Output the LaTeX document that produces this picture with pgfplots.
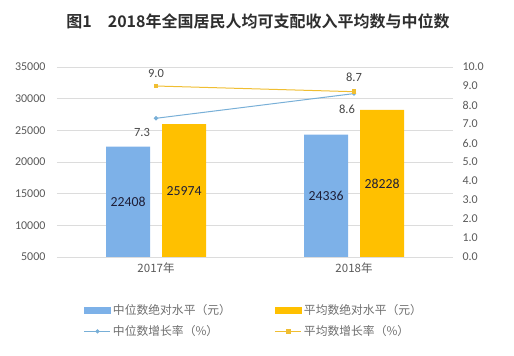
\documentclass[border=0pt]{standalone}
\usepackage{pgfplots}
\pgfplotsset{compat=1.18}
\usepackage{fontspec}
\setmainfont{Carlito}
\newfontfamily\cjk{Noto Sans CJK SC}[BoldFont={Noto Sans CJK SC Bold}]
\definecolor{barblue}{RGB}{125,177,232}
\definecolor{barorange}{RGB}{255,192,0}
\definecolor{lineblue}{RGB}{120,175,215}
\definecolor{lineorange}{RGB}{240,190,50}
\definecolor{ticktext}{RGB}{89,89,89}
\definecolor{legtext}{RGB}{110,110,110}
\definecolor{gridc}{RGB}{220,220,220}
\definecolor{labeldark}{RGB}{30,30,55}
\pgfplotsset{
  shortline legend/.style={legend image code/.code={\draw[##1, mark repeat=2, mark phase=2] plot coordinates {(0pt,0pt) (13pt,0pt) (26pt,0pt)};}},
  bluebar legend/.style={legend image code/.code={\fill[barblue] (0pt,-3pt) rectangle (26pt,3pt);}},
  orangebar legend/.style={legend image code/.code={\fill[barorange] (0pt,-3pt) rectangle (26pt,3pt);}},
}
\begin{document}
\begin{tikzpicture}[x=1pt,y=1pt]
\useasboundingbox (0,0) rectangle (514,356);
\node[font=\cjk\bfseries\fontsize{16}{18}\selectfont, text=black!82] at (258,335) {图1\quad 2018年全国居民人均可支配收入平均数与中位数};

\begin{axis}[
  at={(57pt,99pt)}, anchor=south west,
  scale only axis, width=396pt, height=190pt,
  xmin=-0.5, xmax=1.5, ymin=5000, ymax=35000,
  xtick={0,1}, xticklabels={2017年,2018年},
  ytick={5000,10000,...,35000},
  ymajorgrids, grid style={gridc, line width=0.8pt},
  axis line style={draw=none}, major tick length=0pt,
  tick label style={font=\fontsize{12}{14}\selectfont, text=ticktext},
  xticklabel style={font=\cjk\fontsize{11.5}{14}\selectfont, text=ticktext, yshift=-2pt},
  yticklabel style={xshift=-8pt},
  /pgf/number format/assume math mode=true,
  scaled y ticks=false,
  /pgf/number format/1000 sep={},
  ybar, bar width=44pt,
  clip=false,
]
\addplot[fill=barblue, draw=none, bar shift=-28pt] coordinates {(0,22408) (1,24336)};
\addplot[fill=barorange, draw=none, bar shift=28pt] coordinates {(0,25974) (1,28228)};
\node[font=\fontsize{13.8}{15}\selectfont, text=labeldark, xshift=-28pt] at (axis cs:0,13704) {22408};
\node[font=\fontsize{13.8}{15}\selectfont, text=labeldark, xshift=28pt] at (axis cs:0,15487) {25974};
\node[font=\fontsize{13.8}{15}\selectfont, text=labeldark, xshift=-28pt] at (axis cs:1,14668) {24336};
\node[font=\fontsize{13.8}{15}\selectfont, text=labeldark, xshift=28pt] at (axis cs:1,16614) {28228};
\end{axis}

\begin{axis}[
  at={(57pt,99pt)}, anchor=south west,
  scale only axis, width=396pt, height=190pt,
  xmin=-0.5, xmax=1.5, ymin=0, ymax=10,
  axis y line*=right, hide x axis,
  ytick={0,1,...,10},
  yticklabel style={/pgf/number format/.cd, fixed, fixed zerofill, precision=1},
  axis line style={draw=none}, major tick length=0pt,
  tick label style={font=\fontsize{12}{14}\selectfont, text=ticktext, xshift=6pt},
  /pgf/number format/assume math mode=true,
  clip=false,
  legend columns=2,
  legend cell align=left,
  legend style={at={(0.06,-0.225)}, anchor=north west, draw=none, fill=none,
    font=\cjk\fontsize{11.8}{13}\selectfont, text=legtext,
    /tikz/every even column/.append style={text width=160pt},
    row sep=6pt},
]
\addlegendimage{bluebar legend}
\addlegendentry{中位数绝对水平（元）}
\addlegendimage{orangebar legend}
\addlegendentry{平均数绝对水平（元）}
\addplot[lineblue, line width=1pt, mark=*, mark size=1.6pt, mark options={fill=lineblue}, shortline legend]
  coordinates {(0,7.3) (1,8.6)};
\addlegendentry{中位数增长率（\%）}
\addplot[lineorange, line width=1pt, mark=square*, mark size=1.8pt, mark options={fill=lineorange}, shortline legend]
  coordinates {(0,9.0) (1,8.7)};
\addlegendentry{平均数增长率（\%）}
\node[font=\fontsize{12.5}{14}\selectfont, text=black!72, yshift=13pt] at (axis cs:0,9.0) {9.0};
\node[font=\fontsize{12.5}{14}\selectfont, text=black!72, xshift=-14pt, yshift=-14pt] at (axis cs:0,7.3) {7.3};
\node[font=\fontsize{12.5}{14}\selectfont, text=black!72, yshift=14pt] at (axis cs:1,8.7) {8.7};
\node[font=\fontsize{12.5}{14}\selectfont, text=black!72, xshift=-7pt, yshift=-16pt] at (axis cs:1,8.6) {8.6};
\end{axis}
\end{tikzpicture}
\end{document}
